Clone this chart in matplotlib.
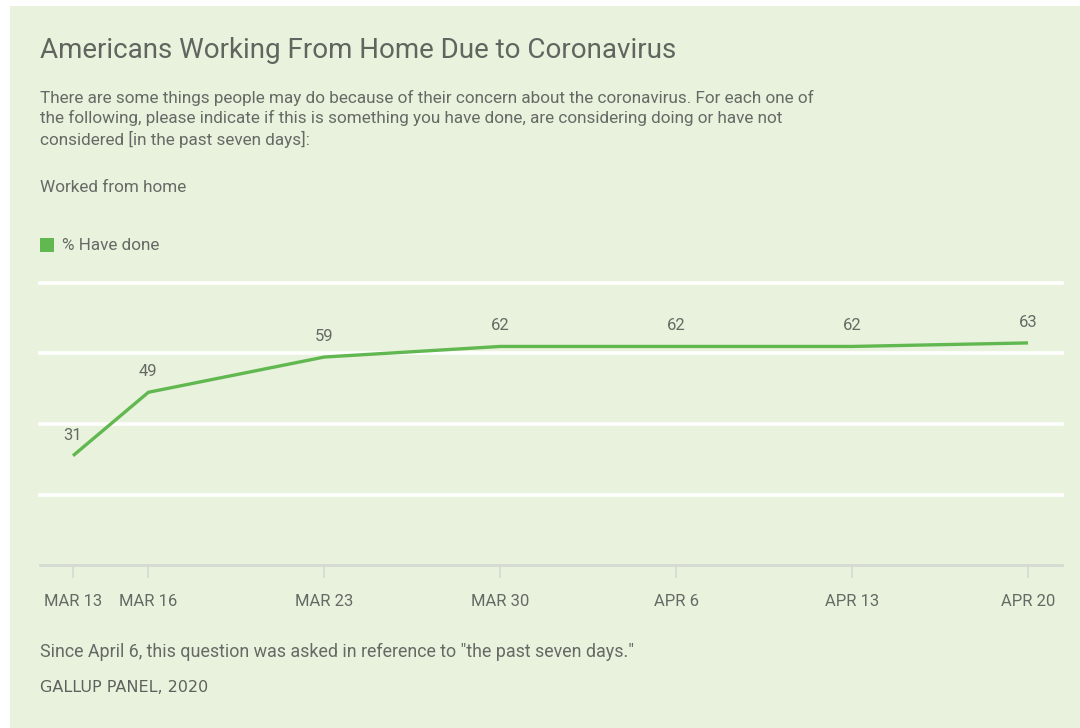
import numpy as np
import matplotlib
matplotlib.use("Agg")
import matplotlib.pyplot as plt
import matplotlib.dates as mdates
import matplotlib.patches as mpatches

# survey waves and share who have worked from home
dates = np.array(["2020-03-13", "2020-03-16", "2020-03-23", "2020-03-30",
                  "2020-04-06", "2020-04-13", "2020-04-20"], dtype="datetime64[D]")
have_done = [31, 49, 59, 62, 62, 62, 63]
tick_labels = ["MAR 13", "MAR 16", "MAR 23", "MAR 30", "APR 6", "APR 13", "APR 20"]
grid_values = [20, 40, 60, 80]

BG = "#e9f2dc"
GREEN = "#62b850"
TEXT = "#666a66"

plt.rcParams['font.family'] = ['Roboto', 'DejaVu Sans']

fig = plt.figure(figsize=(10.8, 7.28), dpi=100)
fig.patch.set_facecolor("white")
W, H = 1080, 728

# panel behind everything
fig.patches.append(mpatches.Rectangle((10 / W, 0), 1 - 10 / W, 1 - 6 / H,
                                      transform=fig.transFigure, facecolor=BG,
                                      edgecolor="none", zorder=-5))

ax = fig.add_axes([40 / W, 1 - 565 / H, (1062 - 40) / W, (565 - 283) / H])
ax.set_facecolor("none")
ax.set_zorder(2)

x = mdates.date2num(dates.astype("datetime64[s]").astype(object))
span = x[-1] - x[0]
px_day = (1028 - 73) / span
ax.set_xlim(x[0] - 33 / px_day, x[-1] + 34 / px_day)
ax.set_ylim(0, 80)

for g in grid_values:
    ax.axhline(g, color="white", lw=2.6, zorder=1, clip_on=False)

ax.plot(x, have_done, color=GREEN, lw=2.4, solid_capstyle="butt", zorder=3)
for xi, v in zip(x, have_done):
    ax.annotate(str(v), (xi, v), xytext=(0, 9.5), textcoords="offset points",
                ha="center", va="bottom", fontsize=12, color=TEXT, zorder=4)

for s in ["top", "right", "left"]:
    ax.spines[s].set_visible(False)
ax.spines["bottom"].set_color("#d5dad2")
ax.spines["bottom"].set_linewidth(2)
ax.set_yticks([])
ax.set_xticks(x)
ax.set_xticklabels(tick_labels)
ax.tick_params(axis="x", length=9, width=1.2, color="#d5dad2", pad=12,
               labelsize=12, labelcolor=TEXT)

# header text
fig.text(40 / W, 1 - 50 / H, "Americans Working From Home Due to Coronavirus",
         fontsize=20, color="#606560", va="center", ha="left")
fig.text(40 / W, 1 - 119 / H,
         "There are some things people may do because of their concern about the coronavirus. For each one of\n"
         "the following, please indicate if this is something you have done, are considering doing or have not\n"
         "considered [in the past seven days]:",
         fontsize=12.35, color=TEXT, va="center", ha="left", linespacing=1.36)
fig.text(40 / W, 1 - 187 / H, "Worked from home", fontsize=12.35, color=TEXT,
         va="center", ha="left")

# legend
fig.patches.append(mpatches.Rectangle((40 / W, 1 - 252 / H), 14 / W, 14 / H,
                                      transform=fig.transFigure, facecolor=GREEN,
                                      edgecolor="none", zorder=2))
fig.text(62 / W, 1 - 245 / H, "% Have done", fontsize=12.35, color=TEXT,
         va="center", ha="left")

# footer
fig.text(40 / W, 1 - 652 / H,
         "Since April 6, this question was asked in reference to \"the past seven days.\"",
         fontsize=12.9, color=TEXT, va="center", ha="left")
fig.text(40 / W, 1 - 688 / H, "GALLUP PANEL, 2020", fontsize=11.5, color="#5e625e",
         va="center", ha="left", family="DejaVu Sans", fontstretch="expanded")

fig.savefig("out.png", dpi=100, facecolor=fig.get_facecolor())
